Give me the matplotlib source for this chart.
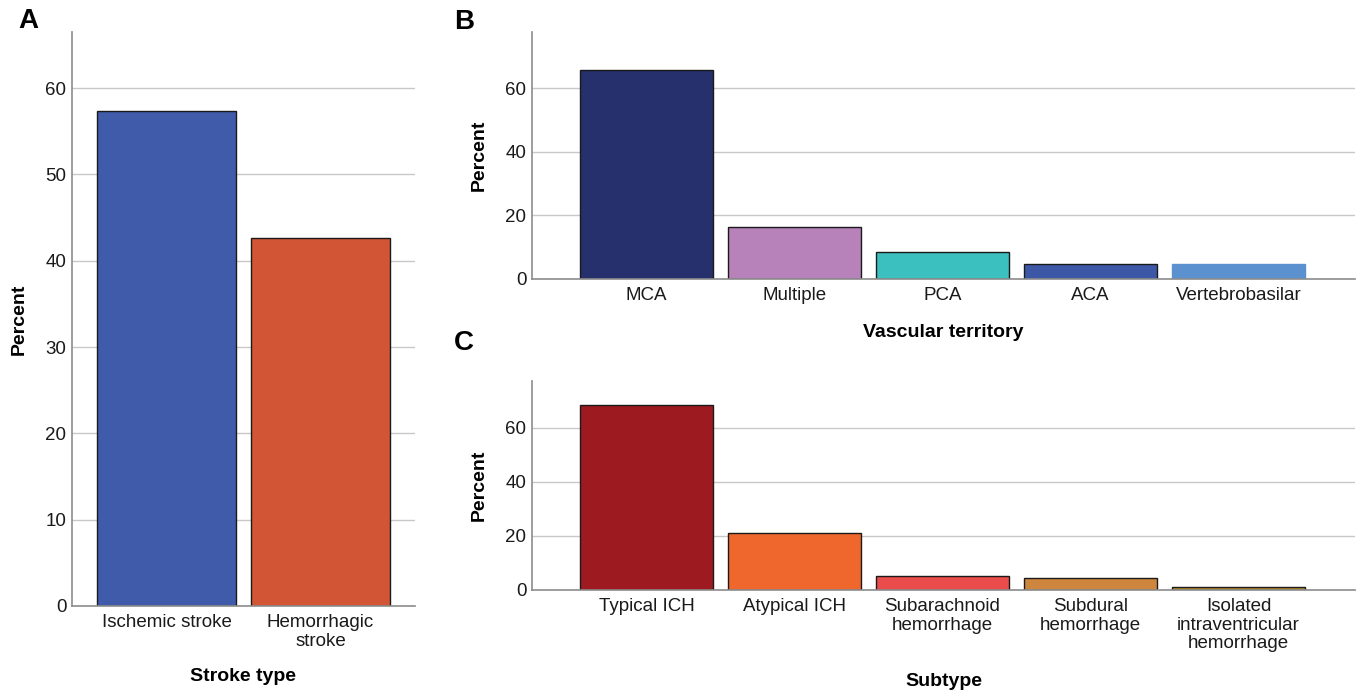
import matplotlib
matplotlib.use("Agg")
import matplotlib.pyplot as plt

plt.rcParams['font.family'] = ['Liberation Sans', 'DejaVu Sans']

# Panel A data
stroke_types = ["Ischemic stroke", "Hemorrhagic\nstroke"]
stroke_pct = [57.4, 42.6]
stroke_colors = ["#3F5BAA", "#D25535"]

# Panel B data
territories = ["MCA", "Multiple", "PCA", "ACA", "Vertebrobasilar"]
territory_pct = [65.7, 16.3, 8.5, 4.8, 4.6]
territory_colors = ["#26306C", "#B781BA", "#3BBFBF", "#3D57A7", "#5C91CF"]
territory_edges = ["#1a1a1a", "#1a1a1a", "#1a1a1a", "#1a1a1a", "#5C91CF"]

# Panel C data
subtypes = ["Typical ICH", "Atypical ICH", "Subarachnoid\nhemorrhage",
            "Subdural\nhemorrhage", "Isolated\nintraventricular\nhemorrhage"]
subtype_pct = [68.5, 21.1, 5.2, 4.4, 1.1]
subtype_colors = ["#9C1A20", "#EF672C", "#EA4B4B", "#CE853D", "#B58A2A"]

W, H = 1357, 692
fig = plt.figure(figsize=(W / 100, H / 100), dpi=100)


def px_axes(l, t, r, b):
    return fig.add_axes([l / W, 1 - b / H, (r - l) / W, (b - t) / H])


def style(ax, ticks, ymax, xlim):
    ax.set_ylim(0, ymax)
    ax.set_xlim(*xlim)
    ax.set_yticks(ticks)
    ax.yaxis.grid(True, color="#C8C8C8", lw=1.0)
    ax.set_axisbelow(True)
    for s in ("top", "right"):
        ax.spines[s].set_visible(False)
    for s in ("left", "bottom"):
        ax.spines[s].set_color("#8C8C8C")
        ax.spines[s].set_linewidth(1.2)
    ax.tick_params(axis="both", length=0, labelsize=13.5, colors="#1a1a1a")
    ax.tick_params(axis="y", pad=4)
    ax.tick_params(axis="x", pad=6)
    for lab in ax.get_xticklabels():
        lab.set_linespacing(1.1)
        lab.set_verticalalignment("top")


# Panel A
axA = px_axes(72, 32, 415, 606)
xA = range(len(stroke_types))
axA.bar(xA, stroke_pct, width=0.9, color=stroke_colors, edgecolor="#1a1a1a", lw=1.0)
axA.set_xticks(list(xA))
axA.set_xticklabels(stroke_types)
style(axA, [0, 10, 20, 30, 40, 50, 60], 66.5, (-0.614, 1.614))
axA.set_ylabel("Percent", fontsize=14, fontweight="bold")
axA.yaxis.set_label_coords(-0.128, 0.5)
axA.set_xlabel("Stroke type", fontsize=14, fontweight="bold")
axA.xaxis.set_label_coords(0.5, -0.108)

# Panel B
axB = px_axes(532, 32, 1355, 279)
xB = range(len(territories))
axB.bar(xB, territory_pct, width=0.9, color=territory_colors,
        edgecolor=territory_edges, lw=1.0)
axB.set_xticks(list(xB))
axB.set_xticklabels(territories)
style(axB, [0, 20, 40, 60], 77.6, (-0.774, 4.787))
axB.set_ylabel("Percent", fontsize=14, fontweight="bold")
axB.yaxis.set_label_coords(-0.0535, 0.5)
axB.set_xlabel("Vascular territory", fontsize=14, fontweight="bold")
axB.xaxis.set_label_coords(0.5, -0.182)

# Panel C
axC = px_axes(532, 381, 1355, 590)
xC = range(len(subtypes))
axC.bar(xC, subtype_pct, width=0.9, color=subtype_colors, edgecolor="#1a1a1a", lw=1.0)
axC.set_xticks(list(xC))
axC.set_xticklabels(subtypes)
style(axC, [0, 20, 40, 60], 77.4, (-0.774, 4.787))
axC.set_ylabel("Percent", fontsize=14, fontweight="bold")
axC.yaxis.set_label_coords(-0.0535, 0.5)
axC.set_xlabel("Subtype", fontsize=14, fontweight="bold")
axC.xaxis.set_label_coords(0.5, -0.398)

# Panel letters
fig.text(28 / W, 1 - 21 / H, "A", fontsize=20, fontweight="bold", ha="center", va="center")
fig.text(464 / W, 1 - 22 / H, "B", fontsize=20, fontweight="bold", ha="center", va="center")
fig.text(464 / W, 1 - 343 / H, "C", fontsize=20, fontweight="bold", ha="center", va="center")

fig.savefig("out.png", dpi=100, facecolor="white")
